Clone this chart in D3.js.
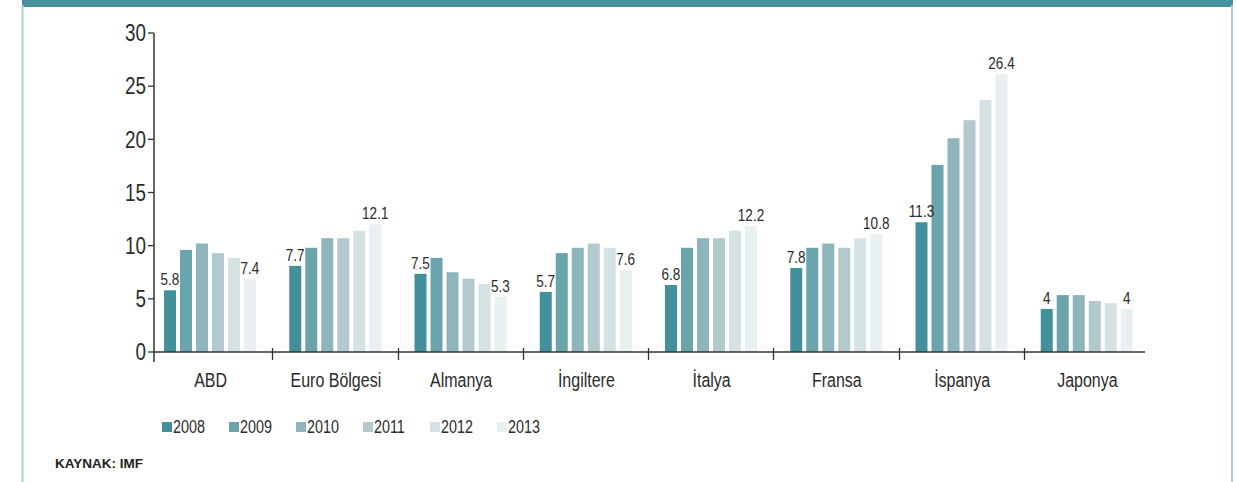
<!DOCTYPE html>
<html>
<head>
<meta charset="utf-8">
<script src="https://cdn.jsdelivr.net/npm/d3@7"></script>
<style>
  html, body { margin: 0; padding: 0; background: #fff; }
  svg { display: block; }
  text { font-family: "Liberation Sans", Arial, sans-serif; fill: #2b2b2b; }
</style>
</head>
<body>
<div id="chart"></div>
<script>
const countries = ['ABD', 'Euro Bölgesi', 'Almanya', 'İngiltere', 'İtalya', 'Fransa', 'İspanya', 'Japonya']
const years = ['2008', '2009', '2010', '2011', '2012', '2013']

// one row per country, one value per year
const values = [
  [5.8, 9.6, 10.2, 9.3, 8.85, 6.9],
  [8.1, 9.8, 10.7, 10.7, 11.4, 12.0],
  [7.35, 8.85, 7.5, 6.9, 6.4, 5.2],
  [5.65, 9.3, 9.8, 10.2, 9.8, 7.7],
  [6.3, 9.8, 10.7, 10.7, 11.4, 11.85],
  [7.9, 9.8, 10.2, 9.8, 10.7, 11.1],
  [12.2, 17.6, 20.1, 21.8, 23.7, 26.15],
  [4.05, 5.35, 5.35, 4.8, 4.6, 4.05]
]

// printed numbers over the first and last bar of each group
const firstLabels = ['5.8', '7.7', '7.5', '5.7', '6.8', '7.8', '11.3', '4']
const lastLabels = ['7.4', '12.1', '5.3', '7.6', '12.2', '10.8', '26.4', '4']

const yTicks = [0, 5, 10, 15, 20, 25, 30]
const colors = ['#44909a', '#6aa5ae', '#8eb5bd', '#b2c9ce', '#d4e2e6', '#e9f0f2']

const W = 1237
const H = 482
const SQUEEZE = 0.82 // no narrow face installed, so squeeze the regular one

const svg = d3.select('#chart').append('svg')
  .attr('width', W)
  .attr('height', H)

// condensed text placed at (x, y)
const narrow = (sel, fx, fy) =>
  sel.attr('transform', (d, i) => `translate(${fx(d, i)},${fy(d, i)}) scale(${SQUEEZE},1)`)

// frame
svg.append('rect')
  .attr('x', 22).attr('y', 0)
  .attr('width', 1211).attr('height', 7)
  .attr('fill', '#46929c')
svg.append('line')
  .attr('x1', 22.5).attr('x2', 22.5).attr('y1', 5).attr('y2', H)
  .attr('stroke', '#a9cfd5').attr('stroke-width', 2)
svg.append('line')
  .attr('x1', 1232).attr('x2', 1232).attr('y1', 5).attr('y2', H)
  .attr('stroke', '#a9cfd5').attr('stroke-width', 2)

const x0 = d3.scaleBand()
  .domain(countries)
  .range([147, 1149])

const x1 = d3.scaleBand()
  .domain(years)
  .range([17, 109])
  .paddingInner(0.25)

const y = d3.scaleLinear()
  .domain([0, 30])
  .range([352, 33])

const color = d3.scaleOrdinal()
  .domain(years)
  .range(colors)

// bars
const groups = svg.selectAll('.group')
  .data(countries)
  .join('g')
  .attr('class', 'group')
  .attr('transform', d => `translate(${x0(d)},0)`)

groups.selectAll('rect')
  .data((d, i) => values[i].map((v, j) => ({ year: years[j], v })))
  .join('rect')
  .attr('x', d => x1(d.year))
  .attr('y', d => y(d.v))
  .attr('width', x1.bandwidth())
  .attr('height', d => y(0) - y(d.v))
  .attr('fill', d => color(d.year))

// value labels
groups.append('text')
  .call(narrow, () => x1(years[0]) + x1.bandwidth() / 2, (d, i) => y(values[i][0]) - 5)
  .attr('text-anchor', 'middle')
  .style('font-size', '16.5px')
  .text((d, i) => firstLabels[i])

groups.append('text')
  .call(narrow, () => x1(years[5]) + x1.bandwidth() / 2, (d, i) => y(values[i][5]) - 5)
  .attr('text-anchor', 'middle')
  .style('font-size', '16.5px')
  .text((d, i) => lastLabels[i])

// y axis
svg.append('line')
  .attr('x1', 154).attr('x2', 154)
  .attr('y1', y(30)).attr('y2', 362)
  .attr('stroke', '#333').attr('stroke-width', 1.5)

svg.selectAll('.ytick')
  .data(yTicks)
  .join('g')
  .attr('class', 'ytick')
  .attr('transform', d => `translate(0,${y(d)})`)
  .call(g => g.append('line')
    .attr('x1', 148).attr('x2', 154)
    .attr('stroke', '#333').attr('stroke-width', 1.3))
  .call(g => g.append('text')
    .call(narrow, () => 146, () => 0)
    .attr('dy', '0.36em')
    .attr('text-anchor', 'end')
    .style('font-size', '23px')
    .text(d => d))

// x axis
svg.append('line')
  .attr('x1', 154).attr('x2', 1145)
  .attr('y1', y(0)).attr('y2', y(0))
  .attr('stroke', '#333').attr('stroke-width', 1.5)

svg.selectAll('.xtick')
  .data(countries.slice(1))
  .join('line')
  .attr('class', 'xtick')
  .attr('x1', d => Math.round(x0(d)) + 0.5)
  .attr('x2', d => Math.round(x0(d)) + 0.5)
  .attr('y1', y(0) - 4)
  .attr('y2', y(0) + 8)
  .attr('stroke', '#333').attr('stroke-width', 1.3)

svg.selectAll('.xlabel')
  .data(countries)
  .join('text')
  .attr('class', 'xlabel')
  .call(narrow, d => x0(d) + x0.bandwidth() / 2 + 1, () => 387)
  .attr('text-anchor', 'middle')
  .style('font-size', '19.5px')
  .text(d => d)

// legend
const legendX = d3.scalePoint()
  .domain(years)
  .range([162, 497])

const legend = svg.selectAll('.legend')
  .data(years)
  .join('g')
  .attr('class', 'legend')
  .attr('transform', d => `translate(${legendX(d)},422)`)

legend.append('rect')
  .attr('width', 10).attr('height', 10)
  .attr('fill', d => color(d))

legend.append('text')
  .call(narrow, () => 11, () => 11)
  .style('font-size', '17.5px')
  .text(d => d)

// source
svg.append('text')
  .attr('x', 55)
  .attr('y', 468)
  .style('font-weight', 'bold')
  .style('font-size', '13.5px')
  .style('fill', '#222')
  .text('KAYNAK: IMF')
</script>
</body>
</html>
